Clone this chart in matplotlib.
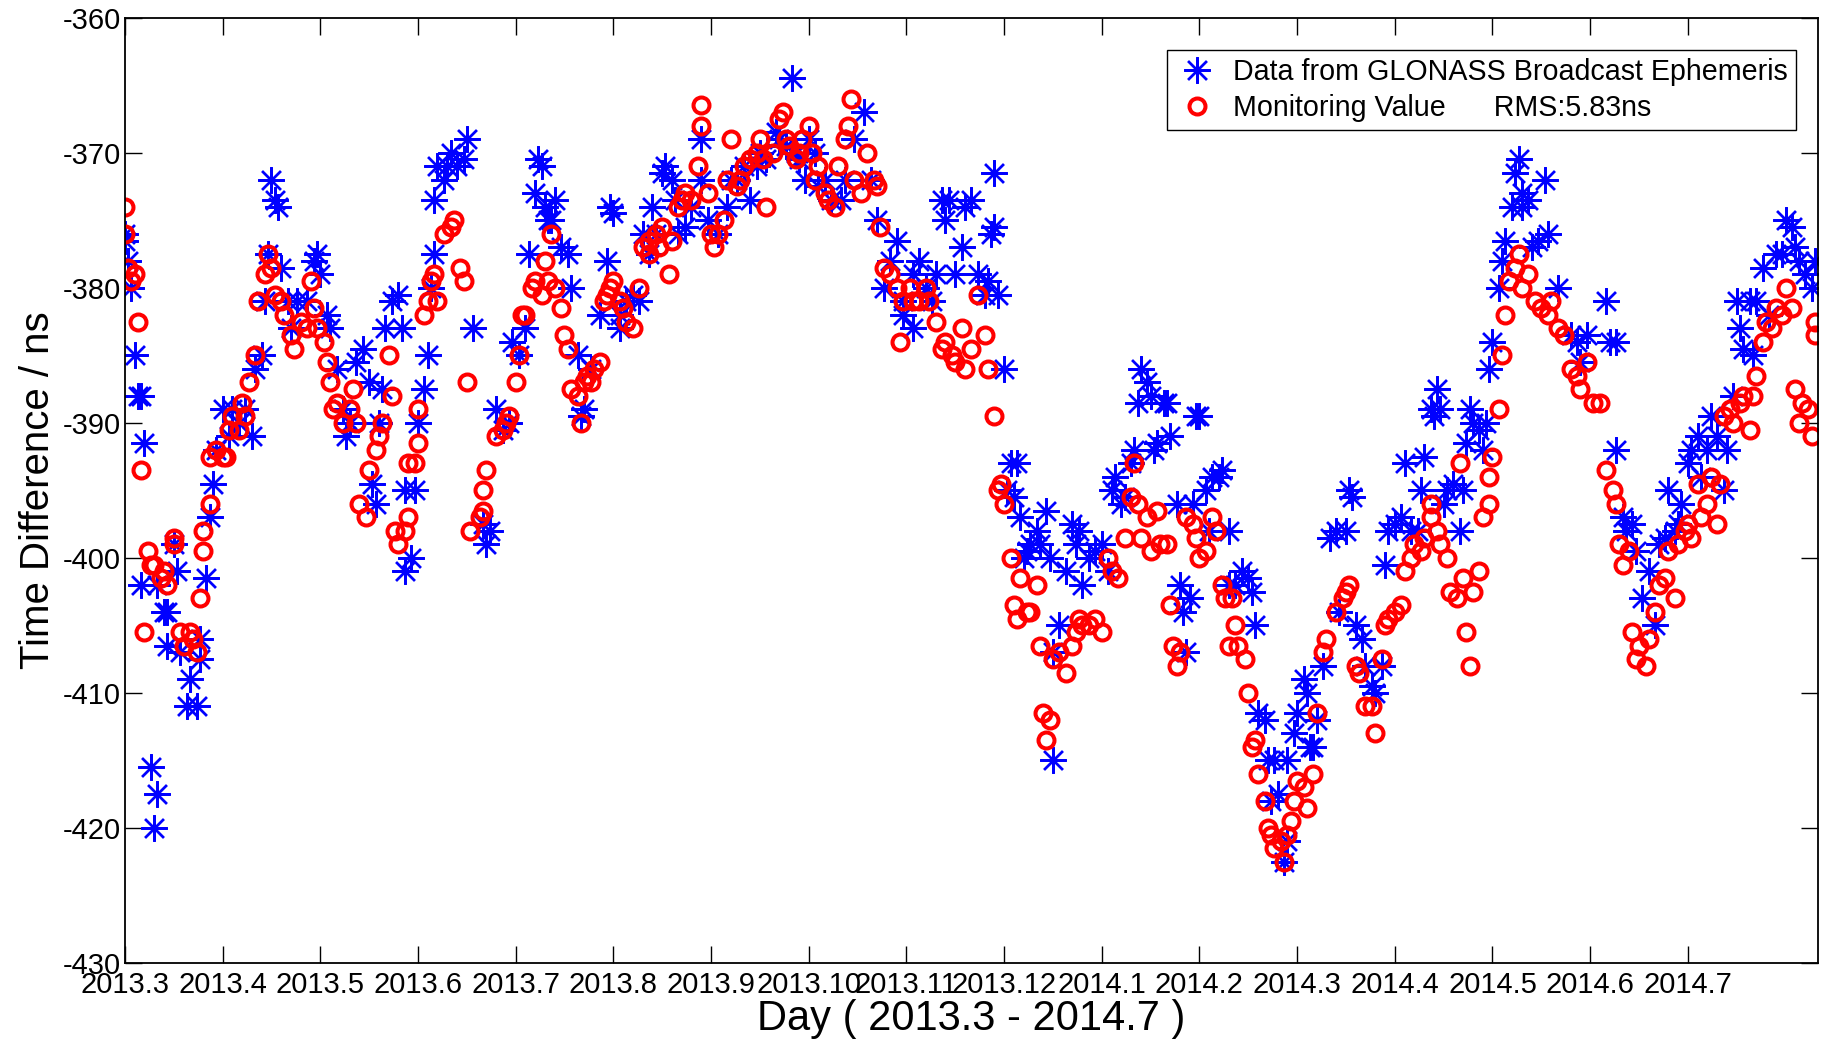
import matplotlib

matplotlib.use("Agg")

import matplotlib.pyplot as plt

# day index since 2013.3, values in ns
broadcast_day = [
    0, 0, 1, 2, 3, 4, 5, 6, 5, 8, 9, 10, 10, 12, 13, 13, 15, 16, 17, 19,
    20, 22, 23, 23, 25, 26, 27, 28, 30, 32, 33, 35, 37, 39, 40, 42, 43, 44, 45, 46,
    47, 48, 50, 51, 53, 56, 58, 59, 60, 62, 63, 65, 67, 68, 69, 71, 73, 75, 76, 77,
    78, 79, 80, 82, 84, 85, 86, 86, 88, 89, 90, 92, 93, 94, 95, 95, 96, 98, 99, 100,
    102, 104, 105, 107, 110, 111, 112, 114, 116, 118, 119, 121, 123, 124, 126, 127, 128, 129, 130, 131,
    132, 134, 136, 137, 139, 140, 141, 143, 146, 148, 149, 150, 152, 152, 154, 156, 158, 159, 161, 162,
    163, 165, 166, 168, 169, 170, 172, 174, 177, 177, 179, 182, 185, 186, 188, 190, 192, 194, 195, 197,
    200, 201, 203, 205, 206, 207, 209, 210, 212, 213, 215, 217, 220, 221, 224, 227, 229, 231, 233, 235,
    237, 239, 239, 242, 242, 244, 246, 248, 249, 251, 252, 253, 255, 257, 258, 260, 262, 264, 265, 266,
    267, 267, 268, 270, 271, 272, 273, 274, 275, 276, 277, 278, 280, 281, 283, 284, 285, 285, 287, 289,
    291, 292, 293, 294, 296, 298, 300, 302, 303, 304, 306, 307, 309, 310, 311, 312, 314, 315, 316, 317,
    319, 320, 321, 323, 324, 325, 326, 327, 328, 329, 330, 332, 333, 334, 336, 337, 339, 339, 341, 343,
    345, 346, 347, 348, 350, 351, 352, 353, 354, 356, 357, 357, 359, 360, 362, 363, 364, 365, 366, 368,
    370, 372, 373, 375, 376, 377, 378, 380, 381, 383, 384, 386, 387, 388, 390, 392, 393, 395, 397, 398,
    399, 401, 402, 403, 404, 405, 406, 408, 410, 411, 412, 413, 414, 416, 417, 418, 419, 420, 422, 423,
    424, 426, 427, 428, 429, 429, 431, 432, 434, 436, 437, 440, 444, 446, 447, 449, 455, 456, 458, 458,
    460, 461, 463, 464, 466, 468, 470, 471, 473, 474, 476, 477, 478, 480, 481, 483, 484, 486, 487, 489,
    491, 492, 494, 495, 496, 497, 499, 500, 501, 503, 505, 507, 509, 510, 512, 513, 514, 516, 518, 519,
]
broadcast_ns = [
    -376, -376.5, -378, -380, -385, -388, -388, -391.5, -402, -415.5, -420, -417.5, -402, -404, -406.5, -404, -399, -401, -407, -411,
    -409, -411, -407.5, -406, -401.5, -397, -394.5, -392, -389, -391, -389, -390, -389, -391, -386, -385, -381, -377.5, -372, -373.5,
    -374, -378.5, -381, -383, -381, -381, -378, -377.5, -379, -382, -383, -386, -389, -391, -390, -385.5, -384.5, -387, -394.5, -396,
    -390, -387.5, -383, -381, -380.5, -383, -395, -401, -400, -395, -390, -387.5, -385, -380, -377.5, -373.5, -371, -372, -371, -370,
    -371, -370.5, -369, -383, -397.5, -399, -398, -389, -390.5, -390, -384, -385, -383, -377.5, -373, -370.5, -371, -374, -375, -375,
    -373.5, -377, -377.5, -380, -385, -389.5, -389, -386, -382, -378, -374, -374.5, -383, -382, -381, -380.5, -381, -376, -377.5, -374,
    -376, -371.5, -371, -372, -373.5, -376, -375.5, -374, -372, -369, -375, -376, -374, -372, -372, -371, -373.5, -371, -370, -370.5,
    -368.5, -369, -369.5, -364.5, -370, -370.5, -372, -369, -370, -372.5, -372, -373.5, -373.5, -372, -369, -367, -372, -375, -380, -378,
    -376.5, -382, -381, -383, -379, -378, -380, -381, -379, -373.5, -375, -373.5, -379, -377, -374, -373.5, -379, -380.5, -379.5, -376,
    -375.5, -371.5, -380.5, -386, -395, -393, -395.5, -393, -397, -400, -399.5, -399, -398, -399, -396.5, -400, -407, -415, -405, -401,
    -397.5, -399, -398, -402, -400, -399.5, -399, -401, -395, -394, -396, -395.5, -393, -392, -388.5, -386, -387, -388, -392, -391.5,
    -388.5, -388.5, -391, -396, -402, -404, -407, -403, -396, -389.5, -389.5, -395, -398, -394, -394, -393.5, -398, -402, -402, -401,
    -401.5, -402.5, -405, -411.5, -412, -415, -418, -415, -417.5, -422.5, -421, -415, -413, -411.5, -409, -410, -414, -414, -412, -408,
    -398.5, -398, -404, -398, -395, -395.5, -405, -406, -408, -409.5, -410, -408, -400.5, -398, -397.5, -397, -393, -398, -398, -395,
    -392.5, -389, -389.5, -387.5, -389, -396, -395, -394.5, -398, -395, -391.5, -389, -390, -390.5, -392, -390, -386, -384, -380, -378,
    -376.5, -374, -371.5, -370.5, -373, -374, -373.5, -377, -376.5, -372, -376, -380, -383.5, -384, -385.5, -383.5, -381, -384, -384, -392,
    -397, -398, -397.5, -399.5, -403, -401, -405, -399, -398.5, -395, -398, -397.5, -396, -393, -392, -391, -394, -392, -389.5, -391,
    -395, -392, -388, -381, -383, -384.5, -381, -385, -381, -378.5, -382, -377.5, -377.5, -375, -375.5, -377, -378, -379, -380, -378,
]

monitor_day = [
    0, 0, 1, 2, 3, 4, 5, 6, 7, 8, 9, 11, 12, 13, 15, 15, 17, 18, 20, 21,
    22, 23, 24, 24, 26, 26, 28, 30, 31, 32, 33, 35, 36, 37, 38, 40, 41, 43, 44, 45,
    46, 48, 49, 51, 52, 54, 56, 57, 58, 59, 61, 62, 63, 64, 65, 67, 69, 70, 71, 72,
    74, 75, 77, 78, 79, 81, 82, 83, 84, 86, 87, 87, 89, 90, 90, 92, 93, 94, 95, 96,
    98, 100, 101, 103, 104, 105, 106, 109, 110, 110, 111, 114, 116, 117, 118, 120, 121, 122, 123, 125,
    126, 128, 129, 130, 131, 132, 134, 135, 136, 137, 139, 140, 141, 142, 143, 144, 146, 147, 148, 149,
    150, 152, 153, 154, 156, 158, 159, 161, 161, 163, 164, 165, 167, 168, 170, 171, 172, 174, 176, 177,
    177, 179, 180, 181, 182, 184, 185, 186, 188, 189, 190, 192, 194, 195, 196, 197, 199, 201, 202, 203,
    204, 206, 207, 208, 210, 211, 212, 213, 215, 216, 218, 219, 221, 222, 223, 224, 226, 228, 230, 231,
    232, 233, 235, 237, 238, 239, 241, 242, 244, 246, 247, 249, 251, 252, 254, 255, 257, 258, 260, 262,
    264, 265, 267, 268, 269, 270, 272, 273, 274, 275, 277, 278, 280, 281, 282, 283, 284, 285, 287, 289,
    291, 292, 293, 294, 296, 298, 300, 302, 303, 305, 307, 309, 310, 311, 312, 314, 315, 317, 318, 320,
    321, 322, 323, 324, 326, 328, 329, 330, 332, 334, 335, 337, 338, 339, 340, 341, 342, 344, 345, 346,
    347, 348, 350, 351, 352, 353, 355, 356, 357, 358, 359, 360, 362, 363, 365, 366, 368, 369, 372, 374,
    375, 376, 378, 379, 381, 383, 384, 386, 387, 388, 390, 392, 393, 395, 396, 398, 399, 401, 401, 403,
    404, 406, 407, 409, 410, 411, 412, 413, 414, 416, 417, 419, 419, 420, 422, 423, 424, 425, 427, 428,
    429, 431, 433, 435, 437, 438, 440, 442, 444, 446, 447, 449, 451, 453, 455, 457, 458, 459, 460, 462,
    463, 464, 465, 467, 468, 470, 471, 473, 474, 476, 477, 479, 480, 481, 483, 484, 486, 487, 489, 490,
    491, 493, 494, 496, 497, 499, 500, 501, 503, 504, 506, 507, 509, 510, 512, 513, 514, 515, 517, 518,
    519, 519,
]
monitor_ns = [
    -374, -376, -378.5, -379.5, -379, -382.5, -393.5, -405.5, -399.5, -400.5, -400.5, -401.5, -401, -402, -399, -398.5, -405.5, -406.5, -405.5, -406,
    -407, -403, -399.5, -398, -396, -392.5, -392, -392.5, -392.5, -390.5, -389.5, -390.5, -388.5, -389.5, -387, -385, -381, -379, -377.5, -378.5,
    -380.5, -381, -382, -383.5, -384.5, -382.5, -383, -379.5, -381.5, -383, -384, -385.5, -387, -389, -388.5, -390, -389, -387.5, -390, -396,
    -397, -393.5, -392, -391, -390, -385, -388, -398, -399, -398, -397, -393, -393, -391.5, -389, -382, -381, -379.5, -379, -381,
    -376, -375.5, -375, -378.5, -379.5, -387, -398, -397, -396.5, -395, -393.5, -391, -390.5, -390, -389.5, -387, -385, -382, -382, -380,
    -379.5, -380.5, -378, -379.5, -376, -380, -381.5, -383.5, -384.5, -387.5, -388, -390, -387, -386.5, -387, -386, -385.5, -381, -380.5, -380,
    -379.5, -381, -381.5, -382.5, -383, -380, -377, -377.5, -376.5, -376, -377, -375.5, -379, -376.5, -374, -373.5, -373, -373.5, -371, -366.5,
    -368, -373, -376, -377, -376, -375, -372, -369, -372.5, -372, -371, -370.5, -370, -369, -370.5, -374, -370, -367.5, -367, -369,
    -369.5, -370.5, -370, -369, -368, -370, -372, -371, -373, -373.5, -374, -371, -369, -368, -366, -372, -373, -370, -372, -372.5,
    -375.5, -378.5, -379, -380, -384, -381, -380, -381, -381, -380, -381, -382.5, -384.5, -384, -385, -385.5, -383, -386, -384.5, -380.5,
    -383.5, -386, -389.5, -395, -394.5, -396, -400, -403.5, -404.5, -401.5, -404, -404, -402, -406.5, -411.5, -413.5, -412, -407.5, -407, -408.5,
    -406.5, -405.5, -404.5, -405, -405, -404.5, -405.5, -400, -401, -401.5, -398.5, -395.5, -393, -396, -398.5, -397, -399.5, -396.5, -399, -399,
    -403.5, -406.5, -408, -407, -397, -397.5, -398.5, -400, -399.5, -397, -398, -402, -403, -406.5, -403, -405, -406.5, -407.5, -410, -414,
    -413.5, -416, -418, -420, -420.5, -421.5, -421, -422.5, -420.5, -419.5, -418, -416.5, -417, -418.5, -416, -411.5, -407, -406, -404, -403,
    -402.5, -402, -408, -408.5, -411, -411, -413, -407.5, -405, -404.5, -404, -403.5, -401, -400, -399, -399.5, -398.5, -396, -397, -398,
    -399, -400, -402.5, -403, -393, -401.5, -405.5, -408, -402.5, -401, -397, -396, -394, -392.5, -389, -385, -382, -379.5, -378.5, -377.5,
    -380, -379, -381, -381.5, -382, -381, -383, -383.5, -386, -386.5, -387.5, -385.5, -388.5, -388.5, -393.5, -395, -396, -399, -400.5, -399.5,
    -405.5, -407.5, -406.5, -408, -406, -404, -402, -401.5, -399.5, -403, -399, -398, -397.5, -398.5, -394.5, -397, -396, -394, -397.5, -394.5,
    -389.5, -389, -390, -388.5, -388, -390.5, -388, -386.5, -384, -382.5, -383, -381.5, -382, -380, -381.5, -387.5, -390, -388.5, -389, -391,
    -382.5, -383.5,
]
assert len(broadcast_day) == len(broadcast_ns)
assert len(monitor_day) == len(monitor_ns)

tick_days = [0, 30, 60, 90, 120, 150, 180, 210, 240, 270, 300, 330, 360, 390, 420, 450, 480]
tick_labels = ["2013.3", "2013.4", "2013.5", "2013.6", "2013.7", "2013.8", "2013.9", "2013.10",
               "2013.11", "2013.12", "2014.1", "2014.2", "2014.3", "2014.4", "2014.5", "2014.6", "2014.7"]

plt.rcParams["font.family"] = ["Liberation Sans", "DejaVu Sans"]
plt.rcParams["axes.unicode_minus"] = False

fig = plt.figure(figsize=(18.37, 10.41), dpi=100)
ax = fig.add_axes([0.068, 0.075, 0.9217, 0.908])

ax.plot(broadcast_day, broadcast_ns, linestyle="none", marker=(8, 2, 0), markersize=19,
        markeredgewidth=1.7, color="#0000ff", label="Data from GLONASS Broadcast Ephemeris")
ax.plot(monitor_day, monitor_ns, linestyle="none", marker="o", markersize=11.5,
        markeredgewidth=2.9, markerfacecolor="none", markeredgecolor="#ff0000",
        label="Monitoring Value      RMS:5.83ns")

ax.set_xlim(0, 520)
ax.set_ylim(-430, -360)
ax.set_yticks(range(-430, -359, 10))
ax.set_xticks(tick_days)
ax.set_xticklabels(tick_labels)
ax.tick_params(direction="in", length=12, width=1, top=True, right=True, labelsize=21)
ax.tick_params(axis="x", pad=6)
ax.tick_params(axis="y", pad=3)
for s in ax.spines.values():
    s.set_linewidth(1.3)

ax.set_xlabel("Day ( 2013.3 - 2014.7 )", fontsize=30, labelpad=0)
ax.set_ylabel("Time Difference / ns", fontsize=29, labelpad=4)

leg = ax.legend(loc="upper right", bbox_to_anchor=(0.987, 0.966), fontsize=20.6, fancybox=False,
                framealpha=1, edgecolor="black", handletextpad=0.5, borderpad=0.3,
                labelspacing=0.25, handlelength=1.5, borderaxespad=0)
leg.get_frame().set_linewidth(1)

fig.savefig("out.png", dpi=100)
